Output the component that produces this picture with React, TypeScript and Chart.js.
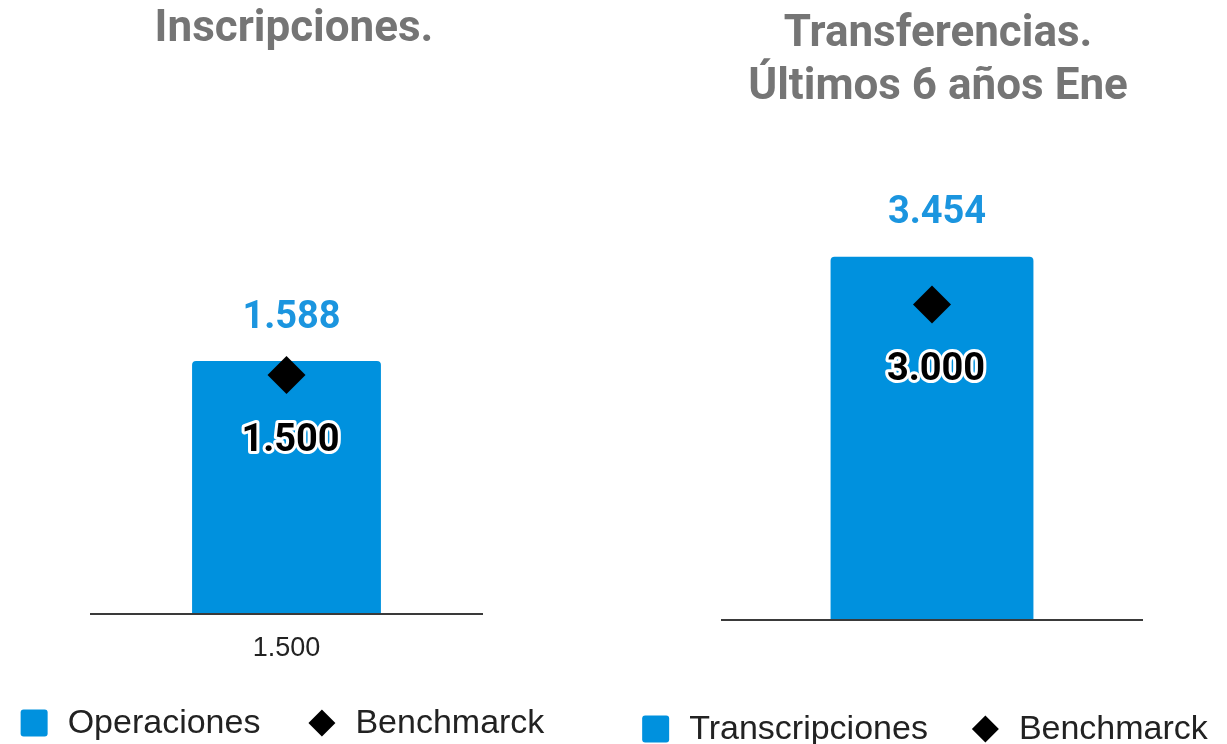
import React, { useEffect, useRef } from 'react';
import { Chart, registerables } from 'chart.js';

Chart.register(...registerables);

// ---------- data ----------
const leftTitle = 'Inscripciones.';
const leftCategories = ['1.500'];
const leftSeriesLabel = 'Operaciones';
const leftValues = [1588];
const leftBenchmark = [1500];
const leftAxisMax = 2000;

const rightTitle = ['Transferencias.', 'Últimos 6 años Ene'];
const rightCategories = [''];
const rightSeriesLabel = 'Transcripciones';
const rightValues = [3454];
const rightBenchmark = [3000];
const rightAxisMax = 4000;

const benchmarkLabel = 'Benchmarck';

// ---------- styles ----------
const BAR_BLUE = '#0091de';
const LABEL_BLUE = '#1b95df';
const TITLE_GRAY = '#757575';
const TEXT_DARK = '#222222';

const fmt = (v: number) => String(Math.round(v)).replace(/\B(?=(\d{3})+(?!\d))/g, '.');

const labelPlugin = {
  id: 'valueLabels',
  afterDatasetsDraw(chart: any) {
    const ctx = chart.ctx;
    chart.data.datasets.forEach((ds: any, i: number) => {
      const meta = chart.getDatasetMeta(i);
      meta.data.forEach((el: any, j: number) => {
        const text = fmt(ds.data[j]);
        ctx.save();
        ctx.textAlign = 'center';
        ctx.textBaseline = 'middle';
        if (meta.type === 'bar') {
          ctx.font = 'bold 38px Roboto';
          ctx.fillStyle = LABEL_BLUE;
          ctx.fillText(text, el.x + 5, el.y - 43);
        } else {
          ctx.font = 'bold 38px Roboto';
          ctx.lineJoin = 'round';
          ctx.lineWidth = 6;
          ctx.strokeStyle = '#ffffff';
          ctx.strokeText(text, el.x + 4, el.y + 66);
          ctx.lineWidth = 1;
          ctx.strokeStyle = '#000000';
          ctx.fillStyle = '#000000';
          ctx.fillText(text, el.x + 4, el.y + 66);
        }
        ctx.restore();
      });
    });
  },
};

const legendPlugin = {
  id: 'customLegend',
  afterDraw(chart: any, _args: any, opts: any) {
    const ctx = chart.ctx;
    const ca = chart.chartArea;
    const box = 27;
    const textGap = 20;
    const itemGap = opts.gap;
    ctx.save();
    ctx.font = '34px "Liberation Sans"';
    const items = chart.data.datasets.map((ds: any) => ({
      ds,
      w: box + textGap + ctx.measureText(ds.label).width,
    }));
    const total = items.reduce((a: number, it: any) => a + it.w, 0) + itemGap * (items.length - 1);
    let x = (ca.left + ca.right) / 2 + opts.shift - total / 2;
    const y = ca.bottom + 109;
    items.forEach(({ ds, w }: any) => {
      if (ds.type === 'line') {
        const cx = x + box / 2;
        const r = box / 2;
        ctx.fillStyle = ds.pointBackgroundColor;
        ctx.beginPath();
        ctx.moveTo(cx, y - r);
        ctx.lineTo(cx + r, y);
        ctx.lineTo(cx, y + r);
        ctx.lineTo(cx - r, y);
        ctx.closePath();
        ctx.fill();
      } else {
        ctx.fillStyle = ds.backgroundColor;
        ctx.beginPath();
        (ctx as any).roundRect(x, y - box / 2, box, box, 3);
        ctx.fill();
      }
      ctx.fillStyle = TEXT_DARK;
      ctx.textAlign = 'left';
      ctx.textBaseline = 'middle';
      ctx.fillText(ds.label, x + box + textGap, y + 1);
      x += w + itemGap;
    });
    ctx.restore();
  },
};

type PanelProps = {
  title: string | string[];
  categories: string[];
  seriesLabel: string;
  values: number[];
  benchmark: number[];
  axisMax: number;
  left: number;
  width: number;
  padLeft: number;
  yLeftW: number;
  yRightW: number;
  xAxisH: number;
  titleLineHeight: number;
  titlePadTop: number;
  titlePadBottom: number;
  legendShift: number;
  legendGap: number;
};

function Panel(p: PanelProps) {
  const ref = useRef<HTMLCanvasElement | null>(null);
  useEffect(() => {
    if (!ref.current) return;
    const chart = new Chart(ref.current, {
      type: 'bar',
      data: {
        labels: p.categories,
        datasets: [
          {
            type: 'bar',
            label: p.seriesLabel,
            data: p.values,
            backgroundColor: BAR_BLUE,
            borderRadius: 4,
            borderSkipped: 'start',
            categoryPercentage: 1,
            barPercentage: 0.483,
            order: 1,
          } as any,
          {
            type: 'line',
            label: benchmarkLabel,
            data: p.benchmark,
            showLine: false,
            pointStyle: 'rectRot',
            pointRadius: 19,
            pointBackgroundColor: '#000000',
            pointBorderColor: '#000000',
            pointBorderWidth: 0,
            order: 0,
          } as any,
        ],
      },
      options: {
        animation: false,
        responsive: false,
        events: [],
        layout: { padding: { top: 0, bottom: 70, left: p.padLeft, right: 0 } },
        plugins: {
          legend: { display: false },
          tooltip: { enabled: false },
          customLegend: { shift: p.legendShift, gap: p.legendGap },
          title: {
            display: true,
            text: p.title,
            color: TITLE_GRAY,
            font: { family: 'Roboto', size: 44, weight: 'bold', lineHeight: p.titleLineHeight },
            padding: { top: p.titlePadTop, bottom: p.titlePadBottom },
          },
        },
        scales: {
          x: {
            grid: { display: false, drawTicks: false },
            border: { display: true, color: '#3a3a3a', width: 2, z: 1 },
            ticks: { color: TEXT_DARK, font: { family: 'Liberation Sans', size: 27 }, padding: 18 },
            afterFit: (s: any) => { s.height = p.xAxisH; },
          },
          y: {
            position: 'left',
            min: 0,
            max: p.axisMax,
            grid: { display: false, drawTicks: false },
            border: { display: false },
            ticks: { display: false },
            afterFit: (s: any) => { s.width = p.yLeftW; },
          },
          y2: {
            position: 'right',
            grid: { display: false, drawTicks: false },
            border: { display: false },
            ticks: { display: false },
            afterFit: (s: any) => { s.width = p.yRightW; },
          },
        },
      } as any,
      plugins: [labelPlugin, legendPlugin],
    });
    return () => chart.destroy();
  }, []);
  return (
    <canvas
      ref={ref}
      width={p.width}
      height={744}
      style={{ position: 'absolute', left: p.left, top: 0, width: p.width, height: 744 }}
    />
  );
}

export default function App() {
  return (
    <div style={{ position: 'fixed', left: 0, top: 0, width: 1227, height: 744, background: '#ffffff', overflow: 'hidden' }}>
      <Panel
        title={leftTitle}
        categories={leftCategories}
        seriesLabel={leftSeriesLabel}
        values={leftValues}
        benchmark={leftBenchmark}
        axisMax={leftAxisMax}
        left={0}
        width={588}
        padLeft={0}
        yLeftW={91}
        yRightW={106}
        xAxisH={60}
        titleLineHeight={1.2}
        titlePadTop={4}
        titlePadBottom={238.6}
        legendShift={-4}
        legendGap={48}
      />
      <Panel
        title={rightTitle}
        categories={rightCategories}
        seriesLabel={rightSeriesLabel}
        values={rightValues}
        benchmark={rightBenchmark}
        axisMax={rightAxisMax}
        left={630}
        width={597}
        padLeft={19}
        yLeftW={73}
        yRightW={85}
        xAxisH={54}
        titleLineHeight={1.193}
        titlePadTop={9}
        titlePadBottom={85.3}
        legendShift={-7}
        legendGap={44}
      />
    </div>
  );
}
